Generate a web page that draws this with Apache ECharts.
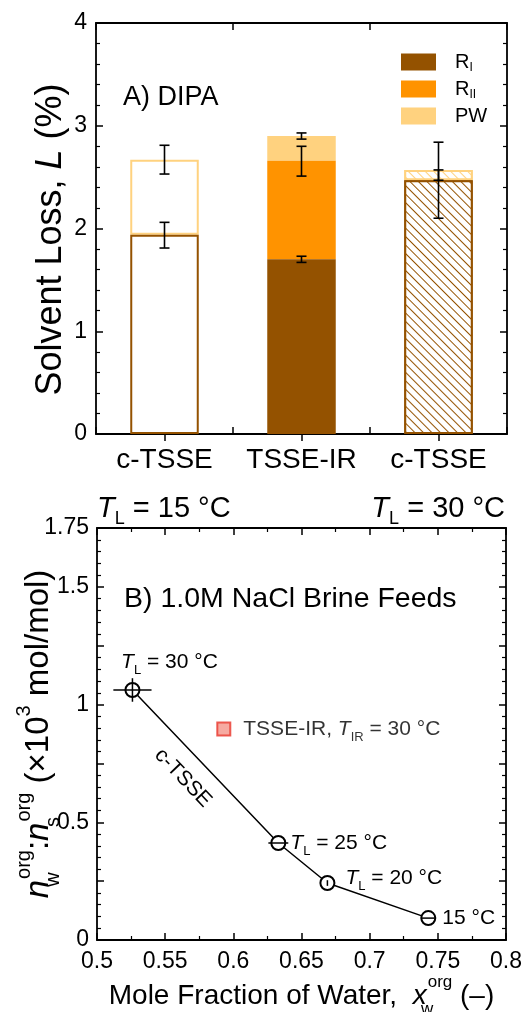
<!DOCTYPE html>
<html><head><meta charset="utf-8">
<script src="https://cdn.jsdelivr.net/npm/echarts@6/dist/echarts.min.js"></script>
<style>html,body{margin:0;padding:0;background:#fff}#c{width:525px;height:1012px}</style>
</head><body><div id="c"></div>
<script>
// ---------- Panel A data ----------
const categories = ['c-TSSE', 'TSSE-IR', 'c-TSSE'];
const lossRI  = [1.94, 1.70, 2.47];
const lossRII = [0, 0.96, 0];
const lossPW  = [0.73, 0.24, 0.10];
const errBar  = [0, 0, 1, 1, 1, 2, 2];
const errLow  = [1.81, 2.53, 1.67, 2.51, 2.87, 2.10, 2.47];
const errHigh = [2.06, 2.81, 1.73, 2.80, 2.93, 2.84, 2.57];
const yTicksA = [0, 1, 2, 3, 4];

// ---------- Panel B data ----------
const xWater   = [0.526, 0.633, 0.669, 0.743];
const ratioWS  = [1.062, 0.412, 0.242, 0.093];
const xWaterErr = [0.014, 0.0073, 0, 0.0048];
const ratioErr  = [0.05, 0, 0.012, 0];
const tempLabels = ['30', '25', '20', '15'];
const irX = [0.593];
const irY = [0.896];
const yLabelsB = [0, 0.5, 1, 1.5, 1.75];
const xLabelsB = [0.5, 0.55, 0.6, 0.65, 0.7, 0.75, 0.8];

// ---------- styling ----------
const FONT = '"Liberation Sans", Arial, Helvetica, sans-serif';
const BROWN = '#945200', ORANGE = '#ff9300', LIGHT = '#ffd27f';
const hatch = c => ({symbol: 'rect', symbolSize: 1, dashArrayX: [[1, 0]], dashArrayY: [0.9, 4.2], rotation: Math.PI / 4, color: c, backgroundColor: '#fff'});
const barMode = ['outline', 'solid', 'hatch'];
function barItem(i, v, color) {
  const d = {value: v};
  if (!v) { d.itemStyle = {color: 'transparent', borderWidth: 0}; return d; }
  if (barMode[i] === 'outline') d.itemStyle = {color: '#fff', borderColor: color, borderWidth: 2};
  if (barMode[i] === 'hatch') d.itemStyle = {color: '#fff', borderColor: color, borderWidth: 2, decal: hatch(color)};
  return d;
}

const axisLine = {show: true, onZero: false, lineStyle: {color: '#000', width: 1.8}};
const tick = {show: true, inside: true, length: 7, lineStyle: {color: '#000', width: 1.5}};
const minor5 = {show: true, splitNumber: 5, length: 4, lineStyle: {color: '#000', width: 1.2}};
const minor2 = {show: true, splitNumber: 2, length: 4, lineStyle: {color: '#000', width: 1.2}};
const lab = {color: '#000', fontSize: 23, fontFamily: FONT};

function nameRich(fs) {
  const main = {fontSize: fs, lineHeight: fs + 16, fontFamily: FONT, color: '#000'};
  const small = Math.round(fs * 0.6);
  return {
    t: main,
    i: Object.assign({}, main, {fontStyle: 'italic'}),
    sub: {fontSize: small, lineHeight: Math.round(fs * 0.97), verticalAlign: 'bottom', fontFamily: FONT, color: '#000', width: 1},
    sup: {fontSize: small, lineHeight: Math.round(fs * 0.97), verticalAlign: 'top', fontFamily: FONT, color: '#000'}
  };
}

const labRich = {
  t: {fontSize: 21, lineHeight: 30, fontFamily: FONT, color: '#000'},
  i: {fontSize: 21, lineHeight: 30, fontFamily: FONT, color: '#000', fontStyle: 'italic'},
  s: {fontSize: 13, lineHeight: 20, verticalAlign: 'bottom', fontFamily: FONT, color: '#000'}
};

function errRenderA(params, api) {
  const x = api.value(0), lo = api.value(1), hi = api.value(2);
  const a = api.coord([x, lo]), b = api.coord([x, hi]);
  const st = {stroke: '#000', lineWidth: 1.6};
  return {type: 'group', children: [
    {type: 'line', shape: {x1: a[0], y1: a[1], x2: b[0], y2: b[1]}, style: st},
    {type: 'line', shape: {x1: a[0] - 5, y1: a[1], x2: a[0] + 5, y2: a[1]}, style: st},
    {type: 'line', shape: {x1: b[0] - 5, y1: b[1], x2: b[0] + 5, y2: b[1]}, style: st}
  ]};
}
function errRenderB(params, api) {
  const x = api.value(0), y = api.value(1), ex = api.value(2), ey = api.value(3);
  const l = api.coord([x - ex, y]), r = api.coord([x + ex, y]);
  const t = api.coord([x, y + ey]), b = api.coord([x, y - ey]);
  const st = {stroke: '#000', lineWidth: 1.5};
  return {type: 'group', children: [
    {type: 'line', shape: {x1: l[0], y1: l[1], x2: r[0], y2: r[1]}, style: st},
    {type: 'line', shape: {x1: t[0], y1: t[1], x2: b[0], y2: b[1]}, style: st}
  ]};
}

const pointLabelPos = [
  {position: 'top', offset: [37, 0]},
  {position: 'right', offset: [-1, 0]},
  {position: 'right', offset: [5, -5]},
  {position: 'right', offset: [1, 0]}
];
const lineData = xWater.map((x, k) => ({
  value: [x, ratioWS[k]],
  label: Object.assign({show: true, formatter: k === 3 ? '{t|' + tempLabels[k] + ' °C}' : '{i|T}{s|L}{t| = ' + tempLabels[k] + ' °C}', rich: labRich}, pointLabelPos[k])
}));

function catAxis(pos, centerTicks, withLabels) {
  return {
    gridIndex: 0, type: 'category', position: pos, data: categories, boundaryGap: true,
    axisLine: centerTicks ? {show: false} : axisLine,
    axisTick: Object.assign({}, tick, {alignWithLabel: centerTicks, interval: 0}),
    splitLine: {show: false},
    axisLabel: withLabels ? Object.assign({}, lab, {fontSize: 28, margin: 12, interval: 0}) : {show: false}
  };
}

const Ttext = fs => ({
  t: {fontSize: fs, lineHeight: fs + 11, fontFamily: FONT, fill: '#000'},
  i: {fontSize: fs, lineHeight: fs + 11, fontFamily: FONT, fill: '#000', fontStyle: 'italic'},
  s: {fontSize: Math.round(fs * 0.63), lineHeight: Math.round(fs * 0.97), verticalAlign: 'bottom', fontFamily: FONT, fill: '#000'}
});

const chart = echarts.init(document.getElementById('c'), null, {renderer: 'canvas'});
chart.setOption({
  animation: false,
  backgroundColor: '#fff',
  textStyle: {fontFamily: FONT},
  grid: [
    {left: 96, right: 18, top: 23, height: 411, outerBoundsMode: 'none', containLabel: false},
    {left: 97, right: 19, top: 528, height: 412, outerBoundsMode: 'none', containLabel: false}
  ],
  legend: {
    data: ['R_I', 'R_II', 'PW'], orient: 'vertical', left: 396, top: 47,
    itemWidth: 35, itemHeight: 17, itemGap: 5, icon: 'rect', selectedMode: false,
    formatter: n => n === 'PW' ? '{r|PW}' : '{r|R}{s|' + n.split('_')[1] + '}',
    textStyle: {padding: [0, 0, 0, 14], rich: {
      r: {fontSize: 20, lineHeight: 24, fontFamily: FONT, color: '#000'},
      s: {fontSize: 12, lineHeight: 17, verticalAlign: 'bottom', fontFamily: FONT, color: '#000'}
    }}
  },
  xAxis: [
    catAxis('bottom', false, true),
    catAxis('bottom', true, false),
    catAxis('top', false, false),
    catAxis('top', true, false),
    {gridIndex: 1, type: 'value', min: 0.5, max: 0.8, interval: 0.05, axisLine, axisTick: tick, splitLine: {show: false},
     minorTick: minor2,
     axisLabel: Object.assign({}, lab, {margin: 10, formatter: v => { const r = +v.toFixed(2); return xLabelsB.includes(r) ? String(r) : ''; }}),
     name: 'Mole Fraction of Water,  {i|x}{sub|w}{sup|org}{t| (–)}', nameLocation: 'middle', nameGap: 34, nameMoveOverlap: false,
     nameTextStyle: {fontSize: 28, color: '#000', fontFamily: FONT, rich: nameRich(28)}},
    {gridIndex: 1, type: 'value', position: 'top', min: 0.5, max: 0.8, interval: 0.05, axisLine, axisTick: tick, splitLine: {show: false},
     minorTick: minor2, axisLabel: {show: false}}
  ],
  yAxis: [
    {gridIndex: 0, type: 'value', min: 0, max: 4, interval: 1, axisLine, axisTick: tick, splitLine: {show: false},
     minorTick: minor5,
     axisLabel: Object.assign({}, lab, {margin: 9, formatter: v => yTicksA.includes(v) ? String(v) : ''}),
     name: '{t|Solvent Loss, }{i|L}{t| (%)}', nameLocation: 'middle', nameRotate: 90, nameGap: 19, nameMoveOverlap: false,
     nameTextStyle: {fontSize: 36, color: '#000', fontFamily: FONT, padding: [0, 22, 0, 0], rich: nameRich(36)}},
    {gridIndex: 0, type: 'value', position: 'right', min: 0, max: 4, interval: 1, axisLine, axisTick: tick, splitLine: {show: false},
     minorTick: minor5, axisLabel: {show: false}},
    {gridIndex: 1, type: 'value', min: 0, max: 1.75, interval: 0.25, axisLine, axisTick: tick, splitLine: {show: false},
     minorTick: minor5,
     axisLabel: Object.assign({}, lab, {margin: 8, formatter: v => { const r = +v.toFixed(2); return yLabelsB.includes(r) ? String(r) : ''; }}),
     name: '{i|n}{sub|w}{sup|org}{t|:}{i|n}{sub|s}{sup|org}{t| (×10}{sup|3}{t| mol/mol)}', nameLocation: 'middle', nameRotate: 90, nameGap: 34, nameMoveOverlap: false,
     nameTextStyle: {fontSize: 33, color: '#000', fontFamily: FONT, rich: nameRich(33)}},
    {gridIndex: 1, type: 'value', position: 'right', min: 0, max: 1.75, interval: 0.25, axisLine, axisTick: tick, splitLine: {show: false},
     minorTick: minor5, axisLabel: {show: false}}
  ],
  series: [
    {name: 'R_I', type: 'bar', xAxisIndex: 0, yAxisIndex: 0, stack: 'L', barWidth: '50%', z: 4,
     itemStyle: {color: BROWN}, data: lossRI.map((v, i) => barItem(i, v, BROWN))},
    {name: 'R_II', type: 'bar', xAxisIndex: 0, yAxisIndex: 0, stack: 'L', barWidth: '50%', z: 3,
     itemStyle: {color: ORANGE}, data: lossRII.map((v, i) => barItem(i, v, ORANGE))},
    {name: 'PW', type: 'bar', xAxisIndex: 0, yAxisIndex: 0, stack: 'L', barWidth: '50%', z: 2,
     itemStyle: {color: LIGHT}, data: lossPW.map((v, i) => barItem(i, v, LIGHT))},
    {name: 'errA', type: 'custom', xAxisIndex: 0, yAxisIndex: 0, z: 6, renderItem: errRenderA,
     encode: {x: 0, y: [1, 2]}, data: errBar.map((b, k) => [b, errLow[k], errHigh[k]])},
    {name: 'cTSSE', type: 'line', xAxisIndex: 4, yAxisIndex: 2, z: 4,
     symbol: 'emptyCircle', symbolSize: 14, lineStyle: {color: '#000', width: 1.5},
     itemStyle: {color: '#000', borderColor: '#000', borderWidth: 1.5}, data: lineData},
    {name: 'errB', type: 'custom', xAxisIndex: 4, yAxisIndex: 2, z: 6, renderItem: errRenderB,
     encode: {x: 0, y: 1}, data: xWater.map((x, k) => [x, ratioWS[k], xWaterErr[k], ratioErr[k]])},
    {name: 'TSSE-IR', type: 'scatter', xAxisIndex: 4, yAxisIndex: 2, z: 5, symbol: 'rect', symbolSize: 13,
     itemStyle: {color: '#f4958a', borderColor: '#e8362a', borderWidth: 2},
     label: {show: true, position: 'right', offset: [7, 0], formatter: '{t|TSSE-IR, }{i|T}{s|IR}{t| = 30 °C}', rich: labRich},
     data: irX.map((x, k) => [x, irY[k]])}
  ],
  graphic: [
    {type: 'text', left: 123, top: 84, style: {text: 'A) DIPA', fontSize: 27, fontFamily: FONT, fill: '#000'}},
    {type: 'text', left: 124, top: 585, style: {text: 'B) 1.0M NaCl Brine Feeds', fontSize: 28.5, fontFamily: FONT, fill: '#000'}},
    {type: 'text', left: 97, top: 494, style: {text: '{i|T}{s|L}{t| = 15 °C}', rich: Ttext(29)}},
    {type: 'text', right: 20, top: 494, style: {text: '{i|T}{s|L}{t| = 30 °C}', rich: Ttext(29)}},
    {type: 'text', x: 183, y: 778, rotation: -0.81, style: {text: 'c-TSSE', fontSize: 21, fontFamily: FONT, fill: '#000', align: 'center', verticalAlign: 'middle'}}
  ]
});
</script></body></html>
